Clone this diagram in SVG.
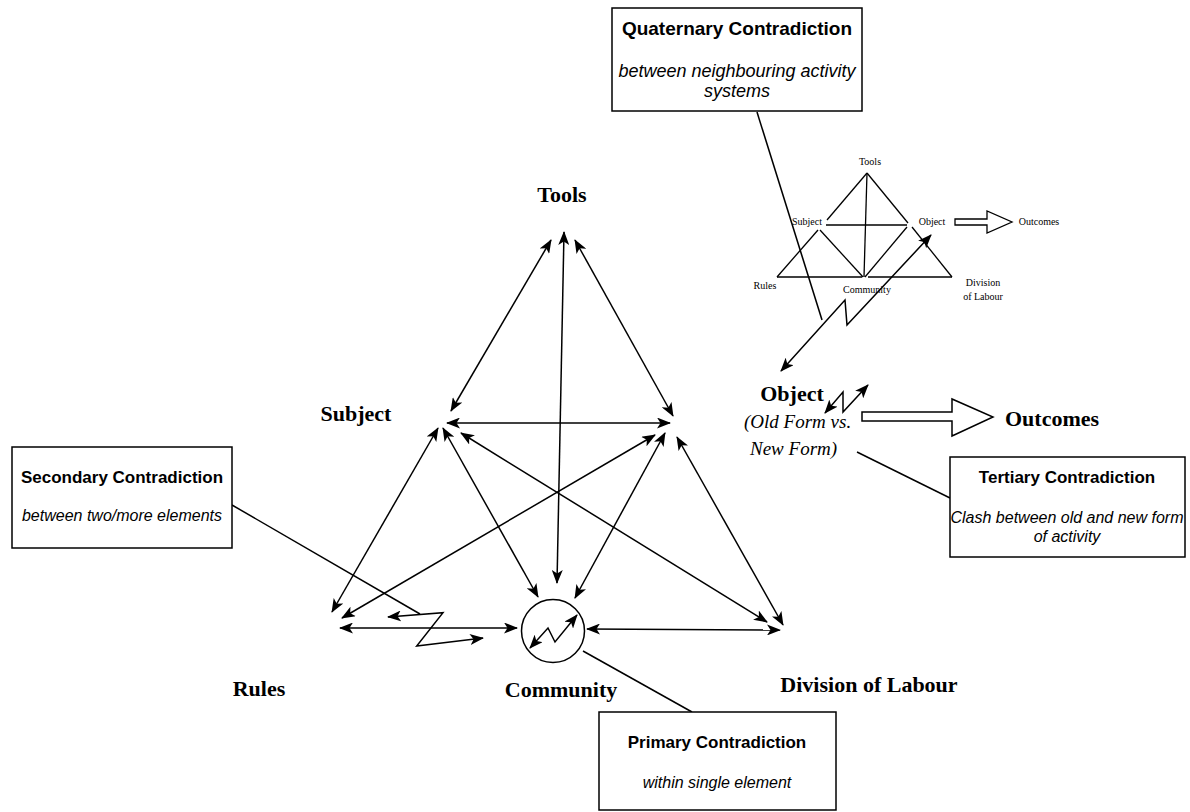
<svg xmlns="http://www.w3.org/2000/svg" width="1190" height="812" viewBox="0 0 1190 812">
  <style>
    .bg { fill: #ffffff; }
    .lbl { font-family: "Liberation Serif", "Times New Roman", serif; font-weight: bold; font-size: 22px; fill: #000; }
    .lbli { font-family: "Liberation Serif", "Times New Roman", serif; font-style: italic; font-size: 19px; fill: #000; }
    .sm { font-family: "Liberation Serif", "Times New Roman", serif; font-size: 10px; fill: #000; }
    .box { fill: #ffffff; stroke: #000; stroke-width: 1.5; }
    .bt { font-family: "Liberation Sans", Arial, sans-serif; font-weight: bold; font-size: 17px; fill: #000; }
    .bi { font-family: "Liberation Sans", Arial, sans-serif; font-style: italic; font-size: 16px; fill: #000; }
    .c { fill: none; stroke: #000; stroke-width: 1.5; }
    .d2 { marker-start: url(#ah); marker-end: url(#ah); }
    .thin { fill: none; stroke: #000; stroke-width: 1.3; }
    .hollow { fill: #ffffff; stroke: #000; stroke-width: 1.5; }
  </style>
  <defs>
    <marker id="ah" viewBox="0 0 14 11" refX="13" refY="5.5" markerWidth="14" markerHeight="11" markerUnits="userSpaceOnUse" orient="auto-start-reverse">
      <path d="M0,0 L14,5.5 L0,11 L3.5,5.5 Z" fill="#000"/>
    </marker>
  </defs>
  <rect class="bg" x="0" y="0" width="1190" height="812"/>

  <!-- activity system: connectors -->
  <g id="connectors">
    <line class="c d2" x1="551" y1="240" x2="451" y2="411"/>
    <line class="c d2" x1="564" y1="232" x2="557" y2="583"/>
    <line class="c d2" x1="575" y1="240" x2="673" y2="416"/>
    <line class="c d2" x1="447" y1="423" x2="670" y2="423"/>
    <line class="c d2" x1="438" y1="428" x2="332" y2="612"/>
    <line class="c d2" x1="443" y1="428" x2="538" y2="597"/>
    <line class="c d2" x1="461" y1="433" x2="767" y2="622"/>
    <line class="c d2" x1="655" y1="435" x2="342" y2="618"/>
    <line class="c d2" x1="665" y1="433" x2="575" y2="598"/>
    <line class="c d2" x1="677" y1="437" x2="783" y2="625"/>
    <line class="c d2" x1="340" y1="628" x2="517" y2="628"/>
    <line class="c d2" x1="587" y1="629" x2="780" y2="630"/>

    <!-- contradiction bolts -->
    <path class="c d2" d="M388,617 L443,612.7 L416.7,646 L483,638"/>
    <path class="c d2" d="M530,648 L548,628 L555,642 L577,615"/>
    <path class="c d2" d="M825,413 L843,392 L843,412 L868,385"/>
    <path class="c d2" d="M781,371 L845,300 L847,325 L931,235"/>

    <!-- callout leaders -->
    <line class="c" x1="232" y1="505" x2="420" y2="614"/>
    <line class="c" x1="583" y1="651" x2="692" y2="712"/>
    <line class="c" x1="857" y1="452" x2="950" y2="498"/>
    <line class="c" x1="757" y1="112" x2="822" y2="320"/>

    <!-- object to outcomes -->
    <path class="hollow" d="M862,412 L952,412 L952,399 L993,417 L952,436 L952,421 L862,421 Z"/>
  </g>

  <!-- main nodes -->
  <g id="community">
    <circle cx="553" cy="631" r="31.5" fill="none" stroke="#000" stroke-width="1.5"/>
    <text class="lbl" x="561" y="697" text-anchor="middle">Community</text>
  </g>
  <g id="tools"><text class="lbl" x="562" y="202" text-anchor="middle">Tools</text></g>
  <g id="subject"><text class="lbl" x="356" y="421" text-anchor="middle">Subject</text></g>
  <g id="object">
    <text class="lbl" x="792" y="401" text-anchor="middle">Object</text>
    <text class="lbli" x="744" y="428">(Old Form vs.</text>
    <text class="lbli" x="750" y="455">New Form)</text>
  </g>
  <g id="outcomes"><text class="lbl" x="1005" y="426">Outcomes</text></g>
  <g id="rules"><text class="lbl" x="259" y="696" text-anchor="middle">Rules</text></g>
  <g id="division"><text class="lbl" x="869" y="692" text-anchor="middle">Division of Labour</text></g>

  <!-- neighbouring activity system (small) -->
  <g id="neighbour-system">
    <line class="thin" x1="867" y1="173" x2="827" y2="220"/>
    <line class="thin" x1="867" y1="173" x2="908" y2="223"/>
    <line class="thin" x1="867" y1="173" x2="864" y2="277"/>
    <line class="thin" x1="826" y1="225" x2="907" y2="225"/>
    <line class="thin" x1="818" y1="230" x2="777" y2="277"/>
    <line class="thin" x1="777" y1="277" x2="862" y2="277"/>
    <line class="thin" x1="868" y1="277" x2="952" y2="277"/>
    <line class="thin" x1="820" y1="230" x2="863" y2="277"/>
    <line class="thin" x1="907" y1="227" x2="865" y2="277"/>
    <line class="thin" x1="912" y1="227" x2="952" y2="277"/>
    <path class="thin" d="M955,219 L987,219 L987,211 L1012,222 L987,233 L987,225 L955,225 Z" fill="#fff"/>
    <text class="sm" x="870" y="165" text-anchor="middle">Tools</text>
    <text class="sm" x="807" y="225" text-anchor="middle">Subject</text>
    <text class="sm" x="932" y="225" text-anchor="middle">Object</text>
    <text class="sm" x="1039" y="225" text-anchor="middle">Outcomes</text>
    <text class="sm" x="765" y="289" text-anchor="middle">Rules</text>
    <text class="sm" x="867" y="293" text-anchor="middle">Community</text>
    <text class="sm" x="983" y="286" text-anchor="middle">Division</text>
    <text class="sm" x="983" y="300" text-anchor="middle">of Labour</text>
  </g>

  <!-- contradiction callouts -->
  <g id="quaternary">
    <rect class="box" x="612" y="8" width="250" height="103"/>
    <text class="bt" x="737" y="35" text-anchor="middle" style="font-size:19px">Quaternary Contradiction</text>
    <text class="bi" x="737" y="77" text-anchor="middle" style="font-size:18px">between neighbouring activity</text>
    <text class="bi" x="737" y="97" text-anchor="middle" style="font-size:18px">systems</text>
  </g>
  <g id="secondary">
    <rect class="box" x="12" y="447" width="220" height="101"/>
    <text class="bt" x="122" y="483" text-anchor="middle">Secondary Contradiction</text>
    <text class="bi" x="122" y="521" text-anchor="middle">between two/more elements</text>
  </g>
  <g id="tertiary">
    <rect class="box" x="950" y="457" width="235" height="100"/>
    <text class="bt" x="1067" y="483" text-anchor="middle">Tertiary Contradiction</text>
    <text class="bi" x="1067" y="523" text-anchor="middle">Clash between old and new form</text>
    <text class="bi" x="1067" y="542" text-anchor="middle">of activity</text>
  </g>
  <g id="primary">
    <rect class="box" x="599" y="712" width="237" height="98"/>
    <text class="bt" x="717" y="748" text-anchor="middle">Primary Contradiction</text>
    <text class="bi" x="717" y="788" text-anchor="middle">within single element</text>
  </g>
</svg>
